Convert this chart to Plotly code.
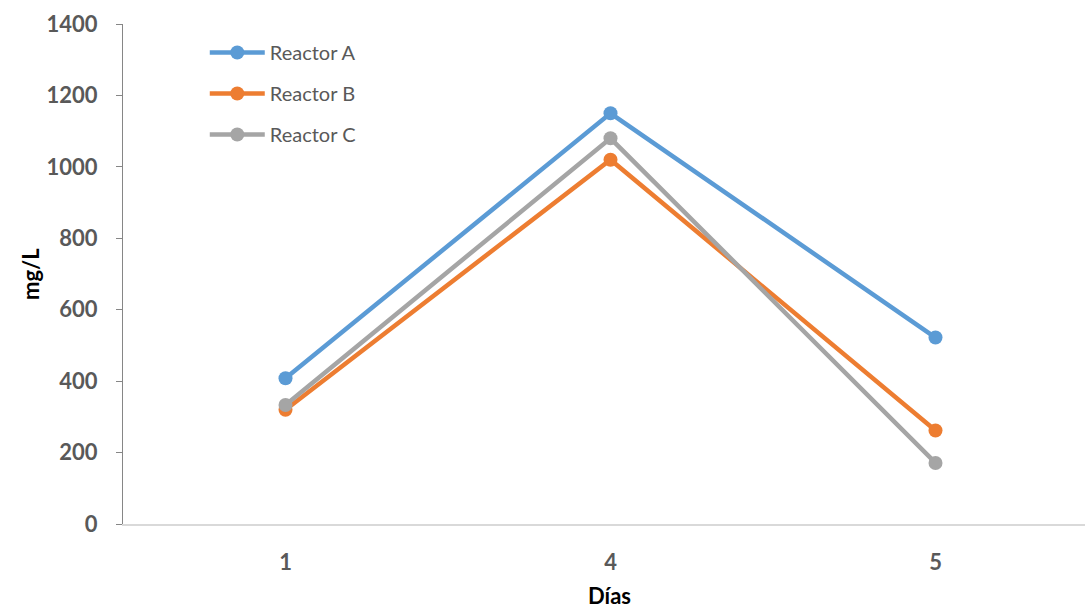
import plotly.graph_objects as go

dias = ["1", "4", "5"]
reactor_a = [408, 1150, 522]
reactor_b = [320, 1020, 262]
reactor_c = [333, 1080, 171]

series = [
    ("Reactor A", reactor_a, "#5B9BD5"),
    ("Reactor B", reactor_b, "#ED7D31"),
    ("Reactor C", reactor_c, "#A5A5A5"),
]

fig = go.Figure()
for name, vals, color in series:
    fig.add_trace(go.Scatter(
        x=dias, y=vals, name=name, legendgroup=name, mode="lines+markers",
        line=dict(color=color, width=4.5),
        marker=dict(color=color, size=14),
    ))

FONT = "Lato, 'Open Sans', sans-serif"
tick_font = dict(family=FONT, size=22, color="#595959", weight="bold")
title_font = dict(family=FONT, size=22, color="#000000", weight="bold")

fig.update_layout(
    width=1085, height=610,
    margin=dict(l=123, r=0, t=24, b=86),
    paper_bgcolor="white", plot_bgcolor="white",
    showlegend=True,
    legend=dict(
        x=0.085, y=0.982, xanchor="left", yanchor="top",
        font=dict(family=FONT, size=20, color="#595959"),
        bgcolor="rgba(0,0,0,0)", tracegroupgap=12, itemwidth=55,
    ),
    xaxis=dict(
        type="category", range=[-0.5, 2.46], automargin=False,
        showgrid=False, zeroline=False,
        showline=True, linecolor="#D9D9D9", linewidth=1.5,
        ticks="", tickfont=tick_font, ticklabelstandoff=18,
    ),
    yaxis=dict(
        range=[0, 1400], dtick=200, automargin=False,
        showgrid=False, zeroline=False,
        showline=True, linecolor="#868686", linewidth=1,
        ticks="outside", ticklen=6, tickcolor="#868686",
        tickfont=tick_font, ticklabelstandoff=14,
    ),
    annotations=[
        dict(text="Días", xref="paper", yref="paper", x=0.506, y=-0.143,
             xanchor="center", yanchor="middle", showarrow=False, font=title_font),
        dict(text="mg/L", xref="paper", yref="paper", x=-0.0967, y=0.5,
             xanchor="center", yanchor="middle", textangle=-90, showarrow=False, font=title_font),
    ],
)

fig.write_html("out.html")
